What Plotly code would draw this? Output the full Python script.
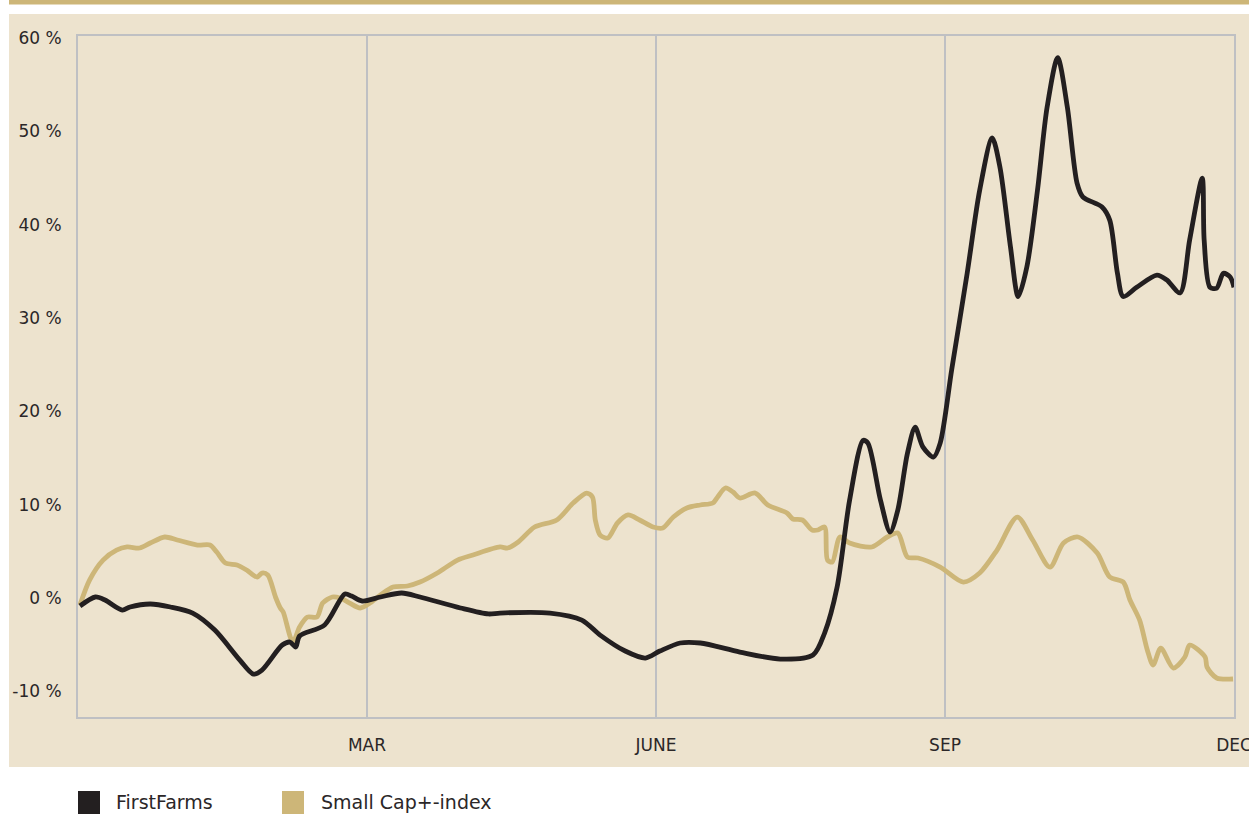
import plotly.graph_objects as go

# ---- data (x in months from start of year, y in %) ----
ff_x = [0.02, 0.18, 0.28, 0.46, 0.54, 0.75, 0.96, 1.19, 1.42, 1.68, 1.82, 1.91, 2.12, 2.20, 2.26, 2.30,
        2.56, 2.77, 2.84, 2.95, 3.14, 3.36, 3.55, 3.97, 4.26, 4.38, 4.90, 5.23, 5.42, 5.68, 5.89, 6.04,
        6.25, 6.46, 6.87, 7.29, 7.63, 7.75, 7.88, 8.01, 8.15, 8.20, 8.33, 8.43, 8.51, 8.61, 8.69, 8.77,
        8.88, 8.95, 9.07, 9.23, 9.36, 9.49, 9.57, 9.68, 9.76, 9.85, 9.96, 10.06, 10.17, 10.27,
        10.37, 10.43, 10.63, 10.71, 10.79, 10.85, 10.99, 11.20, 11.30, 11.44, 11.54, 11.67, 11.69,
        11.75, 11.82, 11.89, 11.96, 12.0]
ff_y = [-0.86, 0.11, -0.21, -1.29, -0.96, -0.64, -0.96, -1.61, -3.43, -6.65, -8.15, -7.72, -5.04, -4.72,
        -5.25, -4.07, -2.89, 0.43, 0.21, -0.32, 0.11, 0.54, 0.11, -1.07, -1.71, -1.61, -1.61, -2.36,
        -3.97, -5.68, -6.43, -5.68, -4.82, -4.82, -5.79, -6.54, -6.11, -3.75, 1.18, 10.5, 16.9, 16.6,
        10.5, 7.07, 9.43, 15.5, 18.3, 16.2, 15.1, 16.6, 24.5, 34.8, 43.7, 49.3, 46.2, 37.6, 32.3,
        35.5, 43.7, 52.6, 57.9, 52.6, 44.5, 43.0, 41.9, 40.5, 34.8, 32.3, 33.3, 34.6, 34.1, 32.7, 38.4,
        45.0, 38.4, 33.3, 33.2, 34.8, 34.4, 33.3]

sc_x = [0.02, 0.12, 0.26, 0.40, 0.51, 0.64, 0.75, 0.90, 1.03, 1.24, 1.37, 1.44, 1.53, 1.65, 1.75, 1.86,
        1.91, 1.97, 2.05, 2.10, 2.13, 2.23, 2.30, 2.38, 2.48, 2.54, 2.64, 2.72, 2.82, 2.93, 3.03, 3.14,
        3.27, 3.42, 3.55, 3.73, 3.94, 4.10, 4.38, 4.46, 4.57, 4.74, 4.97, 5.14, 5.28, 5.34, 5.37, 5.42,
        5.50, 5.60, 5.71, 5.83, 5.97, 6.07, 6.18, 6.32, 6.46, 6.59, 6.64, 6.72, 6.80, 6.87, 7.03, 7.16,
        7.36, 7.42, 7.52, 7.62, 7.68, 7.75, 7.78, 7.83, 7.91, 8.01, 8.24, 8.40, 8.51, 8.61, 8.72, 8.95,
        9.19, 9.36, 9.54, 9.75, 9.91, 10.09, 10.23, 10.38, 10.58, 10.71, 10.85, 10.92, 11.02, 11.10,
        11.16, 11.24, 11.37, 11.49, 11.54, 11.70, 11.72, 11.82, 11.99]
sc_y = [-0.75, 1.93, 4.07, 5.14, 5.47, 5.36, 5.89, 6.54, 6.22, 5.68, 5.68, 4.93, 3.75, 3.54, 3.00, 2.25,
        2.68, 2.47, 0.11, -1.07, -1.50, -4.72, -3.11, -2.04, -2.04, -0.54, 0.11, 0.0, -0.54, -1.07, -0.54,
        0.32, 1.18, 1.29, 1.71, 2.68, 4.07, 4.61, 5.47, 5.36, 6.00, 7.61, 8.36, 10.18, 11.25, 10.83, 8.36,
        6.75, 6.43, 8.04, 8.90, 8.36, 7.61, 7.50, 8.68, 9.65, 9.97, 10.18, 10.83, 11.79, 11.36, 10.72,
        11.25, 9.97, 9.11, 8.47, 8.36, 7.29, 7.29, 7.61, 4.07, 3.86, 6.54, 5.89, 5.47, 6.54, 6.97, 4.39,
        4.29, 3.32, 1.71, 2.68, 5.14, 8.68, 6.22, 3.32, 5.89, 6.54, 4.82, 2.25, 1.71, -0.21, -2.36, -5.57,
        -7.18, -5.36, -7.50, -6.32, -5.04, -6.32, -7.40, -8.57, -8.68]

tick_vals = [3, 6, 9, 12]
tick_text = ["MAR", "JUNE", "SEP", "DEC"]
y_ticks = [-10, 0, 10, 20, 30, 40, 50, 60]
y_tick_text = ["-10 %", "0 %", "10 %", "20 %", "30 %", "40 %", "50 %", "60 %"]

series_names = ["FirstFarms", "Small Cap+-index"]

# ---- styling ----
W, H = 1249, 814
ML, MR, MT, MB = 78, 15, 36, 97
PW, PH = W - ML - MR, H - MT - MB
BEIGE = "#EDE3CE"
GOLD = "#CDB678"
BLACK = "#231F20"
GRID = "#BFC0C3"
TEXT = "#2B2728"
FONT = "DejaVu Sans"


def px_x(p):
    return (p - ML) / PW


def px_y(p):
    return (H - MB - p) / PH


fig = go.Figure()
fig.add_trace(go.Scatter(x=sc_x, y=sc_y, mode="lines", name=series_names[1],
                         line=dict(color=GOLD, width=4.8, shape="spline", smoothing=0.8),
                         showlegend=False))
fig.add_trace(go.Scatter(x=ff_x, y=ff_y, mode="lines", name=series_names[0],
                         line=dict(color=BLACK, width=4.8, shape="spline", smoothing=0.8),
                         showlegend=False))

shapes = [
    # gold band at the very top
    dict(type="rect", xref="paper", yref="paper", x0=px_x(9), x1=px_x(1260), y0=px_y(4.5), y1=px_y(-2),
         fillcolor=GOLD, line=dict(width=0), layer="below"),
    # beige panel
    dict(type="rect", xref="paper", yref="paper", x0=px_x(9), x1=px_x(1260), y0=px_y(767), y1=px_y(14),
         fillcolor=BEIGE, line=dict(width=0), layer="below"),
    # legend swatches
    dict(type="rect", xref="paper", yref="paper", x0=px_x(78), x1=px_x(100), y0=px_y(820), y1=px_y(791),
         fillcolor=BLACK, line=dict(width=0)),
    dict(type="rect", xref="paper", yref="paper", x0=px_x(282), x1=px_x(304), y0=px_y(820), y1=px_y(791),
         fillcolor=GOLD, line=dict(width=0)),
]

annotations = [
    dict(xref="paper", yref="paper", x=px_x(114), y=px_y(802), text=series_names[0], showarrow=False,
         xanchor="left", yanchor="middle", font=dict(family=FONT, size=19, color=TEXT)),
    dict(xref="paper", yref="paper", x=px_x(319), y=px_y(802), text=series_names[1], showarrow=False,
         xanchor="left", yanchor="middle", font=dict(family=FONT, size=19, color=TEXT)),
]

fig.update_layout(
    width=W, height=H,
    margin=dict(l=ML, r=MR, t=MT, b=MB, pad=0, autoexpand=False),
    paper_bgcolor="white", plot_bgcolor=BEIGE,
    shapes=shapes, annotations=annotations,
    font=dict(family=FONT, size=17, color=TEXT),
    xaxis=dict(range=[0, 12], tickvals=tick_vals, ticktext=tick_text, showgrid=True,
               gridcolor=GRID, gridwidth=2, showline=True, linecolor=GRID, linewidth=2, mirror=True,
               zeroline=False, ticks="", ticklabelstandoff=12, ticklabeloverflow="allow",
               automargin=False,
               tickfont=dict(family=FONT, size=17, color=TEXT)),
    yaxis=dict(range=[-12.75, 60.23], tickvals=y_ticks, ticktext=y_tick_text, showgrid=False,
               showline=True, linecolor=GRID, linewidth=2, mirror=True, zeroline=False,
               ticks="", ticklabelstandoff=11, automargin=False,
               tickfont=dict(family=FONT, size=17, color=TEXT)),
    showlegend=False,
)

fig.write_html("out.html", config={"displayModeBar": False},
               post_script="document.body.style.margin='0';document.body.style.overflow='hidden';")
